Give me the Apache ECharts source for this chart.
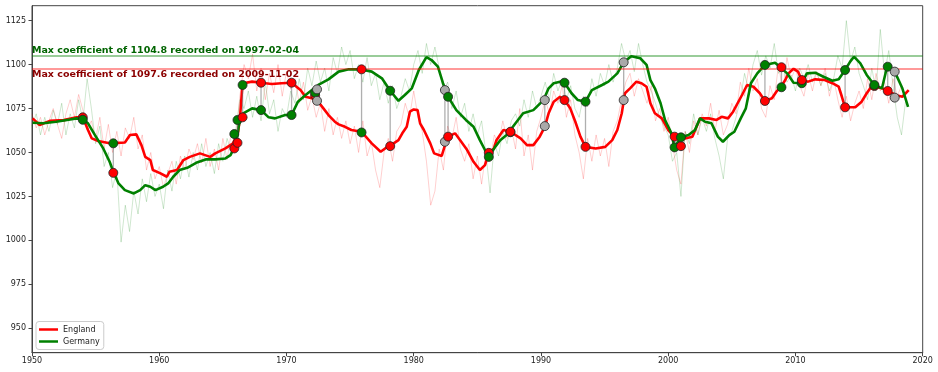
<!DOCTYPE html>
<html><head><meta charset="utf-8">
<script src="https://cdn.jsdelivr.net/npm/echarts@6/dist/echarts.min.js"></script>
<style>html,body{margin:0;padding:0;background:#fff}#c{width:938px;height:372px}</style>
</head><body><div id="c"></div>
<script>
const xTicks = [1950, 1960, 1970, 1980, 1990, 2000, 2010, 2020];
const yTicks = [950, 975, 1000, 1025, 1050, 1075, 1100, 1125];

const englandYears = [1950.05,1950.6,1951.4,1952.5,1953.5,1954.0,1954.4,1954.7,1955.2,1956.1,1957.3,1957.7,1958.2,1958.6,1958.9,1959.3,1959.5,1960.1,1960.6,1960.8,1961.4,1961.9,1962.4,1963.2,1963.6,1964.0,1964.4,1965.2,1965.8,1966.2,1966.35,1966.5,1966.6,1967.3,1968.0,1968.85,1969.6,1970.4,1971.1,1971.5,1972.0,1972.5,1972.9,1973.3,1973.8,1974.1,1974.6,1975.1,1975.9,1976.7,1977.4,1977.75,1978.1,1978.8,1979.1,1979.45,1979.7,1980.0,1980.3,1980.5,1980.8,1981.3,1981.6,1982.2,1982.5,1982.7,1983.25,1983.65,1984.2,1984.7,1985.2,1985.6,1985.9,1986.3,1986.5,1987.05,1987.6,1988.4,1988.9,1989.4,1989.9,1990.3,1990.6,1991.0,1991.5,1991.85,1992.3,1992.7,1993.1,1993.5,1994.3,1995.05,1995.6,1996.0,1996.35,1996.6,1997.0,1997.5,1997.9,1998.3,1998.6,1998.95,1999.5,2000.0,2000.5,2001.3,2001.9,2002.5,2003.2,2003.8,2004.2,2004.7,2005.1,2005.8,2006.2,2006.7,2007.2,2007.6,2008.15,2008.5,2008.9,2009.2,2009.45,2009.85,2010.2,2010.5,2011.0,2011.55,2012.3,2012.9,2013.4,2013.65,2013.9,2014.7,2015.2,2015.6,2016.0,2016.8,2017.3,2017.85,2018.4,2018.9];
const englandValues = [1069.4,1065.6,1068,1068.4,1070,1070,1062.8,1058,1056.5,1055.2,1055.7,1059.9,1060.3,1054.2,1047.5,1045.7,1040,1038.1,1036.2,1039,1040,1045.7,1047.5,1049.5,1048.5,1047.5,1049.5,1052.3,1055.2,1061.8,1070.3,1084.6,1089.4,1090.3,1089.7,1089,1089.4,1089.7,1085.5,1081.7,1080.8,1078.9,1075.1,1071.3,1067.5,1066,1064.6,1062.8,1061.8,1055.2,1050.4,1052.3,1053.6,1057,1060.9,1064.6,1073.2,1074.5,1074.1,1066.6,1062.8,1055.2,1049.5,1048,1055.2,1059,1060.9,1057,1051.4,1044.7,1040,1042.8,1049.8,1052.3,1057,1062.8,1061.8,1058,1054.2,1054.2,1059,1064.6,1072.3,1078.9,1081.7,1079.8,1075.1,1067.5,1059,1053.2,1052.3,1053.2,1057,1062.8,1072.3,1083.7,1086.5,1090.3,1089.4,1087.4,1078,1072.3,1069.4,1062.8,1059,1058,1059,1069.4,1069.4,1068.5,1070.3,1069.4,1073.2,1082.7,1088.4,1087.4,1083.7,1079.3,1080.8,1084.6,1087.8,1091.2,1095,1097.6,1096,1091.2,1090.3,1091.6,1091.2,1089.4,1087.4,1081.7,1075.7,1075.7,1078.9,1083.7,1087.8,1086.5,1085,1082.7,1081.7,1085.5];

const germanyYears = [1950.05,1950.9,1951.9,1953.0,1953.5,1954.0,1954.4,1954.95,1955.6,1956.1,1956.4,1956.8,1957.3,1958.0,1958.5,1958.9,1959.3,1959.7,1960.3,1960.7,1961.1,1961.6,1962.2,1962.9,1963.7,1964.4,1965.2,1965.6,1965.8,1966.1,1966.2,1966.35,1966.6,1967.3,1968.0,1968.6,1969.1,1969.9,1970.4,1970.9,1971.5,1972.0,1972.5,1973.3,1974.1,1974.9,1975.8,1976.7,1977.5,1978.15,1978.8,1979.3,1979.85,1980.4,1981.0,1981.4,1981.9,1982.3,1982.7,1983.35,1984.1,1984.7,1985.2,1985.6,1985.9,1986.4,1986.8,1987.3,1988.0,1988.6,1989.4,1990.2,1990.6,1991.0,1991.5,1991.85,1992.4,1992.9,1993.5,1994.0,1994.8,1995.3,1996.0,1996.5,1997.1,1997.8,1998.3,1998.6,1998.95,1999.4,1999.75,2000.2,2000.5,2001.0,2001.6,2002.1,2002.5,2002.9,2003.4,2003.9,2004.3,2004.8,2005.2,2005.7,2006.1,2006.5,2007.0,2007.6,2008.4,2008.9,2009.35,2009.85,2010.5,2010.9,2011.55,2012.2,2012.9,2013.4,2013.9,2014.3,2014.6,2015.1,2015.6,2016.2,2016.8,2017.2,2017.8,2018.4,2018.85];
const germanyValues = [1066.9,1066.6,1067.5,1068.8,1069.4,1068.8,1066.6,1059.9,1052.3,1044.7,1039,1032.4,1028.6,1026.7,1028.6,1031.4,1030.5,1028.6,1030.5,1032.4,1036.2,1040,1041.3,1044.1,1046.1,1046.1,1046.6,1048.5,1051.4,1057,1062.8,1069.4,1072.3,1075.1,1074.1,1070,1069.4,1071.3,1071.3,1078.9,1082.7,1085.5,1088.4,1091.6,1096,1097.3,1097.3,1096,1092.2,1085.1,1079.4,1082.7,1086.5,1096.9,1104.2,1102.6,1098.8,1089.4,1081.7,1074.1,1068.5,1064.6,1057,1051.4,1047.5,1053.2,1057,1059.9,1066.6,1072.3,1074.1,1079.8,1086.5,1089.4,1090.3,1089.7,1083.7,1079.8,1078.9,1085.5,1088.4,1090.3,1095,1101.3,1104.8,1103.6,1099.8,1091.2,1086.5,1078,1068.5,1061.8,1053.2,1058.6,1059.9,1062.8,1069.4,1067.5,1066.6,1059,1056.1,1059.9,1061.8,1069.4,1075.1,1089.4,1095,1099.8,1101.1,1097.9,1095,1089.7,1089.4,1095,1095.4,1093.1,1090.8,1091.6,1096.9,1101.7,1104.5,1100.7,1094.1,1088.4,1086.5,1098.8,1096,1086.5,1076];

// raw (unsmoothed) coefficients, three readings per year from 1950
const rawStartYear = 1950;
const rawPerYear = 3;
const rawEngland = [1072,1064,1070, 1060,1068,1075, 1066,1058,1072, 1080,1070,1083, 1074,1063,1068, 1058,1070,1052, 1066,1050,1062, 1048,1064,1058, 1070,1052,1060, 1040,1050,1035, 1042,1030,1038, 1045,1032,1048, 1040,1052,1046, 1055,1044,1058, 1042,1052,1040, 1058,1046,1062, 1055,1082,1100, 1092,1106,1085, 1098,1080,1095, 1084,1100,1082, 1096,1086,1092, 1078,1090,1074, 1082,1070,1078, 1062,1075,1060, 1070,1058,1068, 1055,1065,1050, 1068,1048,1056, 1040,1030,1050, 1058,1045,1062, 1066,1078,1070, 1085,1070,1062, 1045,1020,1028, 1052,1040,1065, 1058,1070,1052, 1045,1055,1035, 1048,1032,1050, 1045,1060,1055, 1068,1058,1064, 1052,1075,1048, 1060,1040,1062, 1070,1080,1072, 1085,1078,1088, 1070,1080,1060, 1050,1035,1058, 1045,1060,1048, 1058,1042,1062, 1068,1080,1090, 1095,1082,1092, 1085,1078,1088, 1068,1075,1062, 1070,1055,1040, 1032,1062,1050, 1068,1060,1072, 1065,1078,1062, 1074,1060,1066, 1078,1072,1090, 1082,1098,1085, 1092,1075,1070, 1088,1080,1100, 1085,1104,1092, 1098,1088,1082, 1095,1085,1096, 1088,1098,1082, 1092,1080,1070, 1082,1068,1078, 1085,1075,1092, 1080,1095,1085, 1090,1078,1092, 1082,1088,1080];
const rawGermany = [1065,1072,1060, 1070,1062,1074, 1066,1078,1060, 1072,1064,1080, 1068,1092,1075, 1055,1065,1042, 1050,1030,1040, 999,1020,1005, 1028,1015,1035, 1022,1038,1025, 1032,1018,1040, 1028,1045,1035, 1048,1036,1050, 1040,1055,1042, 1050,1038,1055, 1045,1058,1050, 1062,1080,1075, 1085,1070,1082, 1068,1090,1072, 1080,1062,1075, 1070,1085,1078, 1092,1080,1098, 1088,1102,1090, 1098,1085,1104, 1095,1110,1100, 1108,1092,1100, 1090,1104,1088, 1095,1080,1090, 1078,1088,1075, 1082,1092,1085, 1100,1108,1095, 1112,1100,1110, 1098,1085,1090, 1075,1085,1070, 1078,1062,1072, 1060,1068,1050, 1027,1055,1048, 1062,1055,1068, 1072,1065,1080, 1070,1085,1075, 1082,1090,1080, 1095,1085,1092, 1080,1088,1075, 1070,1082,1076, 1092,1082,1095, 1088,1100,1090, 1098,1112,1102, 1108,1096,1112, 1100,1090,1085, 1078,1070,1065, 1060,1045,1050, 1025,1062,1055, 1072,1060,1070, 1062,1072,1058, 1048,1035,1058, 1062,1070,1080, 1095,1085,1100, 1108,1094,1105, 1098,1112,1095, 1100,1090,1094, 1085,1098,1092, 1100,1090,1096, 1088,1095,1085, 1092,1105,1098, 1125,1102,1110, 1095,1088,1080, 1098,1085,1120, 1095,1108,1088, 1070,1060,1080];

// matches: two markers per match, first drawn then second; E = England colour, G = Germany colour, D = draw
const matchYears   = [1953.99,1956.39,1965.9,1966.15,1966.55,1968.0,1970.4,1972.25,1972.4,1975.9,1978.15,1982.45,1982.7,1985.9,1987.6,1990.3,1991.85,1993.5,1996.5,2000.5,2001.0,2007.6,2008.9,2010.5,2013.9,2016.2,2017.25,2017.8];
const matchFirstVal  = [1070.0,1038.4,1052.3,1055.5,1070.0,1089.7,1089.7,1082.5,1079.4,1097.3,1053.6,1056.1,1059.0,1049.8,1061.5,1065.0,1079.8,1053.2,1079.8,1059.0,1053.6,1079.3,1098.5,1089.4,1075.7,1087.8,1085.0,1081.2];
const matchFirstKind = ['E','E','E','E','E','E','E','E','D','E','E','D','E','E','G','D','E','E','D','E','E','E','E','G','E','E','E','D'];
const matchSecondVal  = [1068.6,1055.2,1060.5,1068.5,1088.4,1074.1,1071.3,1084.0,1085.9,1061.4,1085.1,1085.5,1081.7,1047.5,1061.8,1079.8,1089.7,1078.9,1101.3,1052.9,1058.6,1099.8,1087.1,1091.2,1096.9,1088.4,1098.8,1096.0];
const matchSecondKind = ['G','G','G','G','G','G','G','G','D','G','G','D','G','G','E','D','G','G','D','G','G','G','G','E','G','G','G','D'];

const maxEngland = 1097.6, maxEnglandDate = '2009-11-02';
const maxGermany = 1104.8, maxGermanyDate = '1997-02-04';

const kindColor = {E: '#ff0000', G: '#008000', D: '#a9a9a9'};
const FONT = 'DejaVu Sans';

const zip = (xs, ys) => xs.map((x, i) => [x, ys[i]]);
const rawPairs = arr => arr.map((v, i) => [rawStartYear + i / rawPerYear, v]);

const markerData = [];
matchYears.forEach((y, i) => {
  markerData.push({value: [y, matchFirstVal[i]], itemStyle: {color: kindColor[matchFirstKind[i]]}});
  markerData.push({value: [y, matchSecondVal[i]], itemStyle: {color: kindColor[matchSecondKind[i]]}});
});
const connectorData = matchYears.map((y, i) => [y, matchFirstVal[i], matchSecondVal[i]]);

const chart = echarts.init(document.getElementById('c'), null, {renderer: 'canvas'});
chart.setOption({
  animation: false,
  backgroundColor: '#fff',
  textStyle: {fontFamily: FONT},
  grid: {left: 32, right: 15.3, top: 5.7, bottom: 19.3, show: true, borderColor: '#444', borderWidth: 1, backgroundColor: 'transparent'},
  legend: {
    data: ['England', 'Germany'], orient: 'vertical', left: 36, bottom: 22.5,
    icon: 'rect', itemWidth: 19, itemHeight: 2.5, itemGap: 2,
    padding: [3, 4, 3, 3], borderColor: '#cccccc', borderWidth: 1, borderRadius: 3, backgroundColor: '#fff',
    textStyle: {fontFamily: FONT, fontSize: 8, color: '#222', lineHeight: 10}
  },
  xAxis: {
    type: 'value', min: 1950, max: 2020, interval: 10,
    axisLine: {show: true, onZero: false, lineStyle: {color: '#444', width: 1}},
    axisTick: {show: true, length: 3.5, lineStyle: {color: '#444'}},
    axisLabel: {fontFamily: FONT, fontSize: 8, color: '#222', margin: 4, formatter: v => String(v)},
    splitLine: {show: false}
  },
  yAxis: {
    type: 'value', min: 936.1, max: 1133.5,
    axisLine: {show: true, onZero: false, lineStyle: {color: '#444', width: 1}},
    axisTick: {show: true, length: 3.5, lineStyle: {color: '#444'}, customValues: yTicks},
    axisLabel: {fontFamily: FONT, fontSize: 8, color: '#222', margin: 6, customValues: yTicks, formatter: v => String(v)},
    splitLine: {show: false}
  },
  series: [
    {
      name: 'England raw', type: 'line', data: rawPairs(rawEngland), showSymbol: false, silent: true, z: 1,
      lineStyle: {color: 'rgba(255,0,0,0.19)', width: 1},
      markLine: {
        silent: true, symbol: 'none', animation: false,
        lineStyle: {color: 'rgba(255,0,0,0.4)', width: 2, type: 'solid'},
        label: {position: 'insideStartBottom', distance: [0, 1], fontFamily: FONT, fontSize: 9.5, fontWeight: 'bold', color: '#8b0000',
          formatter: 'Max coefficient of ' + maxEngland + ' recorded on ' + maxEnglandDate},
        data: [{yAxis: maxEngland}]
      }
    },
    {
      name: 'Germany raw', type: 'line', data: rawPairs(rawGermany), showSymbol: false, silent: true, z: 1,
      lineStyle: {color: 'rgba(0,128,0,0.19)', width: 1},
      markLine: {
        silent: true, symbol: 'none', animation: false,
        lineStyle: {color: 'rgba(0,128,0,0.4)', width: 2, type: 'solid'},
        label: {position: 'insideStartTop', distance: [0, 1], fontFamily: FONT, fontSize: 9.5, fontWeight: 'bold', color: '#006400',
          formatter: 'Max coefficient of ' + maxGermany + ' recorded on ' + maxGermanyDate},
        data: [{yAxis: maxGermany}]
      }
    },
    {name: 'England', type: 'line', data: zip(englandYears, englandValues), showSymbol: false, z: 3,
      color: '#ff0000', lineStyle: {color: '#ff0000', width: 2.6}},
    {name: 'Germany', type: 'line', data: zip(germanyYears, germanyValues), showSymbol: false, z: 3,
      color: '#008000', lineStyle: {color: '#008000', width: 2.6}},
    {
      name: 'connectors', type: 'custom', z: 4, silent: true, data: connectorData,
      encode: {x: 0, y: [1, 2]},
      renderItem: (params, api) => {
        const x = api.value(0);
        const p1 = api.coord([x, api.value(1)]);
        const p2 = api.coord([x, api.value(2)]);
        return {type: 'line', shape: {x1: p1[0], y1: p1[1], x2: p2[0], y2: p2[1]},
          style: {stroke: 'rgba(110,110,110,0.55)', lineWidth: 1.3}};
      }
    },
    {name: 'matches', type: 'scatter', z: 5, silent: true, data: markerData, symbol: 'circle', symbolSize: 9,
      itemStyle: {borderColor: '#222', borderWidth: 0.8, opacity: 1}}
  ]
});
</script></body></html>
